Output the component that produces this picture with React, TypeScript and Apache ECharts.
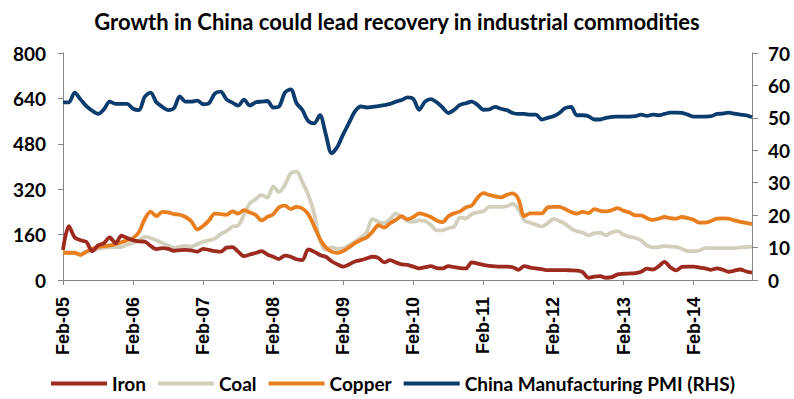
import React, { useEffect, useRef } from "react";
import * as echarts from "echarts";

const monthNames = ["Jan","Feb","Mar","Apr","May","Jun","Jul","Aug","Sep","Oct","Nov","Dec"];
const startYear = 2005;
const startMonth = 1; // Feb
const pointCount = 119; // Feb-05 .. Dec-14
const categories: string[] = [];
for (let i = 0; i < pointCount; i++) {
  const m = (startMonth + i) % 12;
  const y = startYear + Math.floor((startMonth + i) / 12);
  categories.push(monthNames[m] + "-" + String(y).slice(2));
}

const iron = [
  106,190,150,140,134,102,122,130,150,130,156,148,
  140,136,135,120,109,112,110,103,105,106,104,100,
  110,106,102,100,114,116,100,84,90,95,102,90,
  82,74,86,82,73,70,108,100,88,82,66,55,
  47,55,65,70,76,82,78,62,70,62,55,53,
  47,41,45,49,42,41,49,45,42,41,62,58,
  53,50,48,47,47,45,36,49,44,41,38,35,
  35,35,35,34,33,28,8,12,14,8,10,20,
  22,23,24,29,40,37,48,64,45,34,46,47,
  47,44,41,36,41,36,29,33,37,30,26
];

const coal = [
  96,96,94,92,98,104,109,113,116,116,117,124,
  131,140,152,148,140,130,122,114,118,120,118,126,
  135,140,146,162,172,188,192,230,270,285,300,290,
  330,310,335,375,382,345,300,235,140,106,115,110,
  112,123,135,150,168,215,205,200,215,235,222,208,
  205,210,208,194,175,175,183,188,220,217,232,238,
  242,258,258,258,260,268,250,210,202,195,188,200,
  215,208,198,182,172,167,157,165,166,158,168,172,
  160,152,148,140,122,115,116,120,118,117,110,102,
  102,104,112,112,112,112,112,112,115,116,117
];

const copper = [
  96,96,96,88,100,110,116,119,122,126,133,140,
  148,168,215,241,225,240,238,232,230,222,206,178,
  190,210,234,232,230,242,234,246,238,229,210,222,
  232,256,262,250,258,252,232,190,145,115,100,96,
  102,115,130,141,150,170,193,185,200,212,225,214,
  222,235,230,222,210,204,225,235,242,256,262,290,
  306,300,295,291,300,305,285,225,235,235,235,256,
  258,258,250,240,234,240,236,250,244,242,246,253,
  244,238,228,228,218,212,216,222,218,216,222,218,
  212,202,202,208,216,217,216,210,205,201,197
];

const pmi = [
  54.8,54.8,57.8,55.7,53.6,52.2,51.2,52.6,55.0,54.3,54.3,54.3,
  52.8,52.4,56.5,57.8,54.8,53.4,52.4,53.0,56.6,55.0,55.0,55.3,
  54.2,54.5,57.5,58.1,55.7,54.7,53.8,55.6,53.8,54.8,55.0,55.2,
  53.2,53.5,57.8,58.8,54.5,52.4,49.0,48.3,50.8,45.0,39.1,41.1,
  45.0,48.5,52.0,53.5,53.2,53.4,53.6,53.9,54.3,55.0,55.5,56.3,
  55.8,52.5,55.0,55.8,54.8,53.2,51.5,52.5,54.0,54.5,55.0,54.0,
  52.5,52.6,53.4,52.8,52.4,51.5,51.2,51.2,51.0,51.0,49.5,50.0,
  50.5,51.5,53.0,53.4,50.8,50.8,50.5,49.5,49.5,50.0,50.3,50.4,
  50.4,50.4,50.5,51.0,50.6,51.0,50.8,51.2,51.6,51.6,51.5,51.0,
  50.4,50.4,50.4,50.5,51.2,51.3,51.6,51.3,51.0,50.8,50.2
];

const leftTicks = { min: 0, max: 800, interval: 160 };
const rightTicks = { min: 0, max: 70, interval: 10 };

const titleText = "Growth in China could lead recovery in industrial commodities";
const seriesNames = ["Iron", "Coal", "Copper", "China Manufacturing PMI (RHS)"];
const colors = ["#9C2A1F", "#D3CFBD", "#E97E1F", "#0B3C6D"];

export default function App() {
  const ref = useRef<HTMLDivElement>(null);
  useEffect(() => {
    if (!ref.current) return;
    const chart = echarts.init(ref.current, null, { renderer: "svg" });
    const font = "Lato, 'Noto Sans', sans-serif";
    const axisLineStyle = { color: "#868686", width: 1 };
    const yLabel = { color: "#000", fontSize: 19, fontWeight: "bold" as const, fontFamily: font };
    const datasets = [iron, coal, copper, pmi];
    chart.setOption({
      animation: false,
      backgroundColor: "#fff",
      title: {
        text: titleText,
        left: "center",
        top: 5,
        textStyle: { color: "#000", fontSize: 22, fontWeight: "bold", fontFamily: font },
      },
      legend: {
        top: 369,
        left: 46,
        itemWidth: 56,
        itemHeight: 4,
        itemGap: 12,
        icon: "rect",
        textStyle: { color: "#000", fontSize: 19, fontWeight: "bold", fontFamily: font },
        data: seriesNames,
      },
      grid: { left: 63, right: 42, top: 53, bottom: 119, containLabel: false },
      xAxis: {
        type: "category",
        data: categories,
        boundaryGap: false,
        axisLine: { show: true, lineStyle: axisLineStyle },
        axisTick: { show: true, interval: 11, length: 5, lineStyle: axisLineStyle },
        axisLabel: {
          interval: 11,
          rotate: 90,
          margin: 17,
          color: "#000",
          fontSize: 18,
          fontWeight: "bold",
          fontFamily: "'Liberation Sans', Arial, sans-serif",
        },
        splitLine: { show: false },
      },
      yAxis: [
        {
          type: "value",
          position: "left",
          ...leftTicks,
          axisLine: { show: true, lineStyle: axisLineStyle },
          axisTick: { show: true, length: 5, lineStyle: axisLineStyle },
          axisLabel: { ...yLabel, margin: 17 },
          splitLine: { show: false },
        },
        {
          type: "value",
          position: "right",
          ...rightTicks,
          axisLine: { show: true, lineStyle: axisLineStyle },
          axisTick: { show: true, length: 6, lineStyle: axisLineStyle },
          axisLabel: { ...yLabel, margin: 16 },
          splitLine: { show: false },
        },
      ],
      series: datasets.map((d, idx) => ({
        name: seriesNames[idx],
        type: "line",
        yAxisIndex: idx === 3 ? 1 : 0,
        data: d,
        symbol: "none",
        smooth: 0.3,
        lineStyle: { color: colors[idx], width: 3.8 },
        itemStyle: { color: colors[idx] },
        z: idx === 0 ? 5 : 3,
      })),
    });
    return () => chart.dispose();
  }, []);
  return <div ref={ref} style={{ position: "absolute", left: 0, top: 0, width: 794, height: 399 }} />;
}
